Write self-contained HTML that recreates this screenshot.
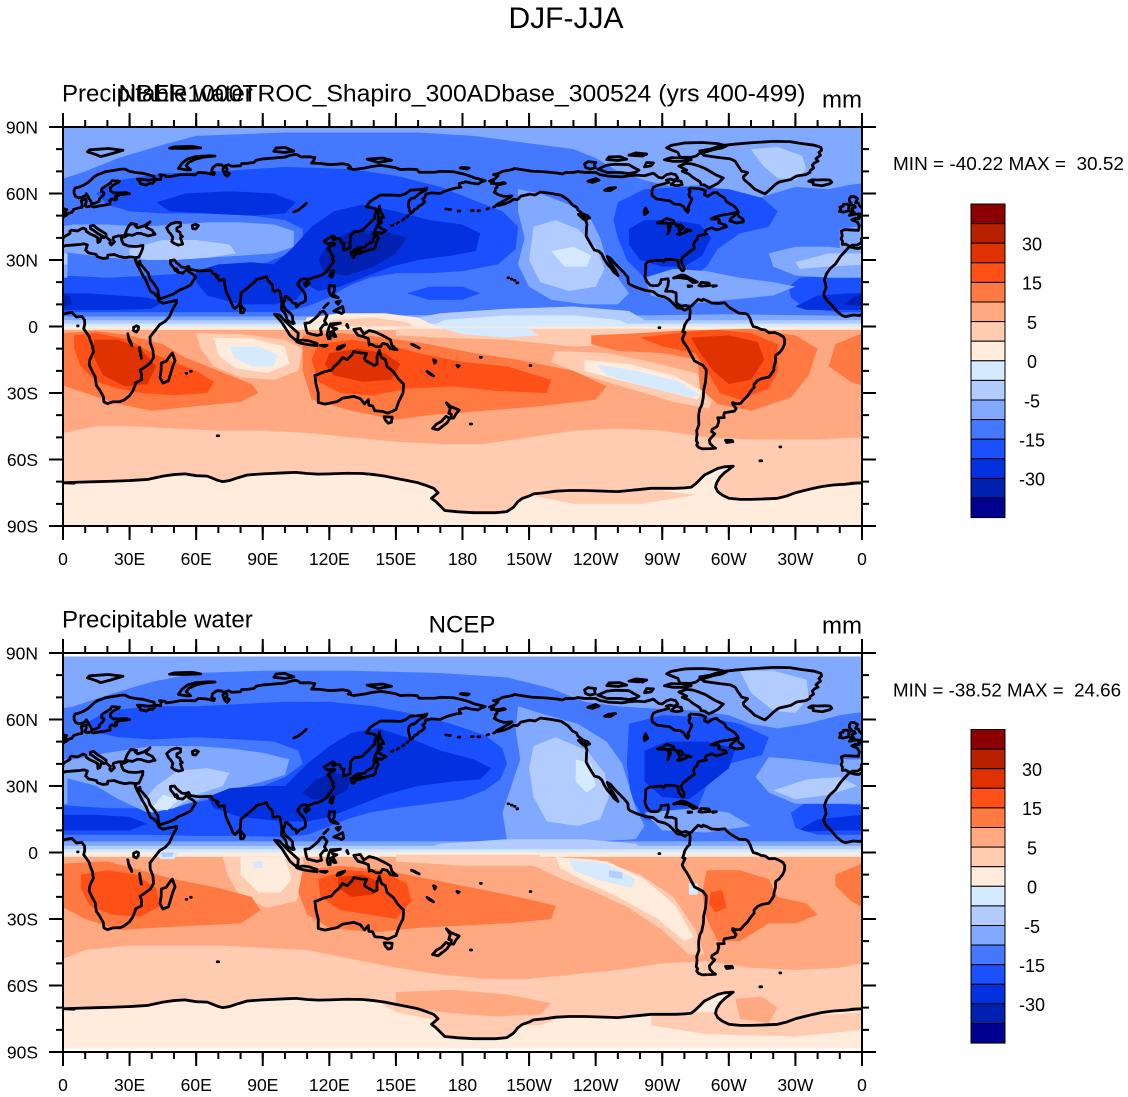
<!DOCTYPE html>
<html><head><meta charset="utf-8"><style>
html,body{margin:0;padding:0;background:#fff;}
svg{display:block;}
text{font-family:"Liberation Sans",Arial,Helvetica,sans-serif;fill:#000;}
</style></head><body>
<svg width="1128" height="1097" viewBox="0 0 1128 1097" xmlns="http://www.w3.org/2000/svg">
<defs>
<g id="coast" fill="none" stroke="#000" stroke-width="2.8" stroke-linejoin="round" stroke-linecap="round">
<path vector-effect="non-scaling-stroke" d="
M-5.9,35.8 L-9.8,31.5 L-12,28.2 L-14.5,26 L-16,23.8 L-17,21 L-16.5,19.5 L-16.2,17.5 L-17.3,14.7 L-16.7,13 L-15.5,11.5 L-13.5,9.5 L-11.5,7 L-9,5 L-7.5,4.4 L-4,5.2 L-1,5 L1.5,6 L4,6.4 L6,4.3 L8.5,4.5 L9.7,3 L9.8,1 L9.3,-1 L11.8,-4.5 L12.2,-6 L13.3,-8.8 L13.7,-11.5 L12.1,-15 L11.8,-17.3 L13.3,-20.5 L14.5,-22.6 L15,-26.6 L16.5,-28.6 L18.2,-31.7 L18.4,-34 L20,-34.8 L22.5,-34 L25.6,-33.9 L27.5,-33.2 L30,-31.2 L31.5,-29 L32.5,-26.5 L32.6,-25.5 L35.4,-24 L35.4,-21.5 L34.7,-19.7 L36.3,-18.7 L39.3,-16.5 L40.8,-14 L40.5,-10.5 L39.3,-7.5 L39.2,-4.7 L41.5,-1.8 L43.5,0.8 L46,2.3 L48,4.5 L49.5,8 L51,10.5 L51.2,11.8 L48.5,11.2 L45,10.5 L43.3,11.5 L42.5,13.5 L41,15 L39.5,15.8 L38.5,18 L37.3,21 L35.7,23.5 L34.5,26 L33.5,27.8 L32.6,29.8 L32.3,31.2 L30,31.4 L28,31 L25,31.7 L23,32.5 L20.2,32.2 L20,30.9 L18,30.7 L15.5,31.5 L15,32.5 L11.5,33.2 L10.2,34.5 L11,36.8 L9.5,37.3 L7.5,37 L5,36.8 L1,36.5 L-1.5,35.2 L-3,35.3 L-5.3,35.9 Z
M-5.6,36.1 L-7.4,37.2 L-8.9,37 L-8.8,38.5 L-9.4,39.5 L-8.9,41 L-9.3,43.1 L-7.8,43.7 L-4,43.5 L-1.6,43.4 L-1.2,45.5 L-2.2,47.2 L-4.6,48.1 L-3,48.8 L-1.4,48.7 L-1.6,49.6 L0,49.4 L1.5,50.2 L2.5,51.1 L4,51.5 L4.8,52.8 L7,53.5 L8.5,53.7 L8.6,55 L8.2,56.8 L10.4,57.6 L10.5,56.2 L9.9,54.5 L11,54 L12.5,54.4 L14,53.9 L16,54.3 L18.5,54.7 L21.2,55.2 L21.1,56.8 L22,57.6 L23.5,57 L24.3,57.6 L23.5,58.6 L26,59.5 L30,59.9 L28,60.5 L25,60.2 L22.5,60.3 L21.4,61.2 L21.3,62.5 L22.5,63.8 L25,65 L25.4,65.6 L22,65.8 L21.5,64.8 L18.7,63 L17.5,62.2 L17.3,61 L18.5,60.2 L18,59 L16.5,57.6 L16.3,56.5 L14.3,55.6 L13,55.4 L12.6,56.4 L11.8,57.7 L11.1,59 L10.5,59.9 L10,59 L8.5,58.3 L7,58 L5.6,58.8 L5,60 L5,61.5 L5.5,62.5 L7.5,63 L9,63.6 L11,64.8 L12.5,66 L14,67.5 L15.5,68.5 L17,69 L19,69.8 L21.5,70.2 L24,70.6 L26,71 L28,71 L30,70 L33,69.4 L36,69.1 L41,67.8 L41.2,66.3 L38.5,66 L35,66.4 L33.5,66.5 L34.8,65 L34.9,64.4 L36.5,64 L37.5,63.8 L39,64.6 L40.5,64.6 L42,66.5 L44,66.2 L44.2,67.8 L43.5,68.5 L46,68.2 L46.5,67.5 L49,67.8 L53,68.5 L57.5,68.5 L59.5,68.4 L61,69.5 L64.5,69.3 L68,68.5 L68.3,69.3 L67,70 L67.3,71.5 L68.5,72.5 L69.5,73 L71.5,72.9 L72.5,72 L72,70.8 L73,68.5 L74,67.7 L75,69 L73.5,70 L74,71 L73,72.5 L74.5,73 L76,72.3 L80,72.5 L80.5,73.5 L83,73.6 L86,74 L87,75 L90,75.6 L95,76 L100,76.4 L101.5,77 L104.5,77.7 L106,77.3 L107,76.5 L111,76.6 L113.5,76.2 L113,75 L112,73.7 L116,73.6 L120,73 L126,73.4 L128.5,73 L129.5,72 L128.5,71.5 L131,70.8 L136,71.5 L139,72.2 L143,72.7 L146,72.3 L150,71.6 L152,70.8 L156,71 L159.5,70.8 L160.5,69.6 L167.5,69.6 L170,70 L176,69.8 L180,68.9 L182.5,68.2 L185.5,67 L188.5,66.3 L190.2,65.8 L188.5,65.2 L187,64.3 L183.5,64.8 L181.5,65.3 L178.5,64.5 L178.6,63.4 L179.3,62.8 L177,62.5 L174,61.7 L172,61 L170,60 L166,60.3 L163.5,59.8 L163,58.2 L162,57.6 L163,56.2 L161.7,55 L160.3,54.3 L159.5,53.2 L158.5,52.9 L157.5,51.5 L156.6,51 L156,53 L155.6,55 L155.9,56.8 L157,57.8 L158.3,58 L161,60.3 L163.5,61.6 L164,62.5 L162.5,62 L159.5,61.7 L156.5,61.5 L154.2,59.8 L152,59.1 L148.5,59.3 L143,59.3 L140.5,57.8 L138.5,56.5 L137,54.6 L136.7,54 L138,53.8 L140.4,53.3 L141.4,52.3 L140.5,50.5 L140.4,48.8 L138.5,47 L137,45.5 L135,43.5 L133,42.8 L131.5,43 L129.6,41 L129.6,39.5 L129.3,37.5 L129.4,35.5 L128,35 L126.5,34.4 L126.3,36.5 L126.7,37.6 L125.4,37.8 L124.8,39.5 L123.5,39.8 L121.8,39 L121.5,39.4 L122.3,40.5 L121.5,40.9 L120.5,40.3 L118.5,39.1 L117.7,38.5 L118.5,37.7 L119.5,37.2 L120.5,37.6 L122.5,37.3 L122.2,36.8 L120.5,36.1 L119.3,35 L120.3,34.2 L121,32.5 L121.8,31.5 L121.3,30.5 L122,29.8 L121.5,28.5 L120.5,27.2 L119.6,26 L118.5,24.6 L117.2,23.6 L115.5,22.8 L113.2,22.2 L110.5,21.2 L110.2,20.4 L109.7,21.4 L108.5,21.6 L107,21 L105.7,19 L106.5,18 L107.5,16.7 L108.8,15.3 L109.3,13.5 L109.2,11.6 L108,10.8 L106.8,10.4 L105.2,8.8 L104.8,10.5 L103.5,10.6 L102.6,12 L100.9,13.5 L100.1,13.4 L100,12.3 L99.2,10.3 L99.5,9.2 L100.4,7.5 L102.2,6.2 L103.4,4.8 L103.5,2.8 L104.2,1.4 L103.5,1.3 L101,2.9 L100.3,5.5 L98.4,7.9 L98.6,10.8 L98.2,13.5 L97.7,16 L96.5,16.4 L95.5,15.8 L94.6,16.2 L94.4,18.7 L92.4,20.7 L91.8,22.5 L89.5,21.8 L87.1,21.2 L86.8,20.5 L84.5,18.6 L82.2,16.6 L80.2,15.1 L80.1,13.5 L79.8,10.4 L78.3,8.9 L77.5,8.1 L76.6,8.9 L76,10.5 L74.8,13 L73.5,15.9 L72.8,19.3 L72.7,21.2 L70.5,20.8 L69.1,22.4 L70,22.8 L67.4,24 L66.7,25.4 L61.5,25.1 L57.4,25.7 L56.6,27.1 L55,26.6 L53.5,26.8 L51,28.9 L50.2,30 L48.4,29.8 L48.5,28.2 L50.1,26.2 L50.6,25.2 L51.1,26.1 L51.6,25.5 L51.5,24.5 L54,24.1 L56.3,26.2 L56.5,24.8 L58.6,23.6 L59.8,22.3 L58.5,20.4 L57.7,18.9 L55.3,17.6 L52.4,16.4 L49.6,14.6 L47,13.6 L44.5,12.7 L43.5,12.6 L42.9,14.8 L42.8,16.5 L41.2,19 L39.2,21.5 L38.4,24 L36.6,26.2 L34.8,28.2 L34.6,29.5 L34.3,28 L33.6,28.5 L32.7,29.9 L32.9,31.1 L34.2,31.3 L35,33 L35.9,35.2 L36,36.6 L34,36.2 L32.5,36.1 L29.5,36.3 L27.3,37.2 L26.6,38.5 L26.2,40 L28,40.5 L29.2,41.2 L27.5,41 L25,40.9 L22.8,40.3 L22.5,39.3 L23.2,38.2 L21.7,36.8 L21.1,37.5 L21.3,38.8 L19.4,40.4 L19.4,41.7 L17,43.2 L15.5,44.2 L13.8,45.6 L12.3,45.3 L12.4,44.2 L13.6,43.5 L15.9,41.8 L18,40.6 L18.5,40.1 L17.2,40.4 L16.6,38.3 L15.7,37.9 L15.6,40.1 L14,41 L12.2,41.8 L10.5,42.9 L10.2,43.9 L9,44.4 L8,43.9 L6.5,43.1 L4,43.5 L3.1,43 L3.2,42.1 L2,41.3 L0.8,40.7 L-0.3,39.5 L0,38.9 L-0.7,37.6 L-2.2,36.7 L-4.4,36.7 L-5,36.3 Z
M28,41.6 L28.6,43.4 L29.6,45.2 L30.7,46.5 L33.2,46 L32.5,45.4 L33.6,44.5 L36.5,45.4 L38.2,46.5 L39.2,47.2 L37.8,45.8 L37.5,44.7 L40.2,43.4 L41.5,41.6 L38.3,40.9 L35,42 L33.3,42 L31.3,41.1 Z
M46.7,44.6 L48.6,46.3 L51.2,47.1 L53,46.8 L53,45.3 L51.3,44.5 L51.3,43.2 L52.7,42.5 L52.9,41.4 L53.8,40.6 L52.9,40 L53.9,37.2 L52,36.7 L50.2,37.4 L49,38.3 L49.5,40.2 L48.5,41.8 L47.5,42.9 Z
M58.2,45.5 L59.7,46.2 L61,45.5 L59.8,44 L58.5,44.1 Z
M104,51.7 L106,52.5 L108.5,54.5 L109.6,55.6
M-5.7,50.1 L-3,50.7 L0.5,50.8 L1.4,51.3 L0.5,51.7 L1.7,52.7 L0.3,53.1 L-1.2,54.6 L-1.6,55.6 L-2.9,56 L-2,57.7 L-3.4,58.6 L-5,58.6 L-5.7,57.5 L-5.6,56.3 L-4.8,55.5 L-5,54.8 L-3.5,54.7 L-3,53.8 L-4.6,53.2 L-4,52.2 L-5.1,51.8 L-3.5,51.4 L-5,51 Z
M-6,52.2 L-6,53.8 L-5.6,54.5 L-6.8,55.2 L-8.3,55.2 L-8.5,54.3 L-10,53.8 L-9.5,52.8 L-10.2,51.9 L-8.5,51.6 Z
M-22,64 L-18,63.5 L-14.5,64.4 L-13.6,65.1 L-14.5,66.1 L-16.8,66.2 L-20,66.1 L-22.5,66.2 L-24,65.5 L-22,65 Z
M11,78.8 L15,77.5 L17,76.6 L22,78 L27,79.5 L20.5,80.3 L16,80 L12,79.7 Z
M52,71.3 L56,70.6 L57.5,70.7 L55.5,72.5 L56.5,74 L60,75.6 L64,76.5 L68.5,76.9 L66,77 L60,76.7 L56,75.5 L53.5,73.5 Z
M48,80.4 L55,80.3 L62,80.6 L58,81.3 L50,81 Z
M95,79 L100,78.5 L104,79.2 L100,80.8 L96,80.5 Z
M137,75.5 L142,74 L148,75 L144,76 Z
M179,71.5 L182,71 L183,71.5 L180,71.8 Z
M130.9,34.3 L133,35.5 L136,35.8 L137,37 L139.5,38.3 L140,40 L141.5,41.4 L142,39.5 L141,37.5 L140.8,35.7 L139.7,34.8 L138.5,34.6 L136.9,34.3 L135.5,33.6 L134,34.4 L132,33.8 Z
M129.8,33.5 L131,33.9 L131.8,32.5 L131,31.2 L130.2,31.5 Z
M132.5,33.9 L134.7,34.1 L134.3,33.2 L133,32.8 Z
M140,41.5 L140.5,43.2 L141.5,45.5 L143.5,44.2 L145.5,43.3 L143.5,42 L141,42.5 Z
M142,46 L143.5,46.8 L143,49 L144.5,49.2 L143,52 L142.6,54.3 L142,52 L142,49 Z
M120.2,22.7 L121,25 L122,25 L121.2,22.2 Z
M108.7,19.5 L110.5,20 L111,19.5 L109.5,18.2 Z
M120,18.5 L122.4,18.4 L122.2,16 L121.5,14.5 L124,13 L121.5,13.5 L120.6,14.2 L119.8,16 Z
M122,7 L126,9 L126.5,6.5 L125.5,5.8 L124,6.5 Z
M123,11 L125,11.5 L124,10 Z M118,9 L119.5,10.5 L117.5,8.5 Z
M95.3,5.6 L97.5,5.2 L100.5,2 L103.7,-1 L106,-3 L105.8,-5.8 L104.5,-5.9 L102.3,-4 L100.4,-1 L98.7,1.7 Z
M105.2,-6.8 L108,-6.1 L111,-6.5 L114.5,-7.7 L114.5,-8.7 L110,-8.1 L106.5,-7.4 Z
M109,1.5 L109.6,-1.5 L110.2,-3 L114.5,-4 L116.5,-3.5 L116,-1 L117.5,0.8 L118.8,1 L117.8,2.5 L119,5 L117.3,7 L116,6.5 L115,5 L113,3.2 L111,1.7 Z
M119.5,-5.5 L120.4,-5.5 L120.5,-2.5 L122,-4.5 L123,-4.5 L121.5,-2 L123.4,-1 L121.5,-0.6 L121,0.5 L125,1.5 L120.5,1.2 L119.8,-0.5 L119,-3.5 Z
M131,-1.3 L134,-0.9 L135.5,-3.4 L138,-1.8 L141,-2.6 L145.5,-4.8 L147.5,-6 L148.2,-8.5 L150.5,-10.5 L147.5,-10 L146,-8 L144,-7.6 L143,-9.2 L141,-9.1 L139,-8 L138,-8.4 L137.6,-5.5 L135,-4.5 L133,-4 L132,-2.8 Z
M124,-9.3 L127,-8.4 L125,-10 L123.5,-10.3 Z M116,-8.5 L119,-8.5 L118,-9 Z M128,1 L128.5,-0.5 L127.8,0.5 Z
M79.9,9.8 L81.9,7.5 L81.2,6.2 L80,6.2 Z
M49.3,-12 L50.5,-15.5 L49.6,-17.5 L47.5,-24.5 L45,-25.5 L43.7,-23 L44.2,-20 L44.3,-16.5 L46.5,-15.7 L48,-13.5 Z
M113.5,-22 L114,-26 L115,-30 L115,-34.3 L118,-35 L123.5,-33.9 L126,-32.3 L131,-31.5 L134,-32.6 L135.8,-34.9 L137.6,-33 L137.8,-35.5 L139.5,-35.8 L140.5,-38 L144,-38.3 L146.3,-39.1 L150,-37.5 L151.3,-33.8 L153.2,-30 L153.5,-26 L151,-23.5 L149,-20.5 L146,-18 L145.3,-15 L143.5,-14 L142.5,-10.7 L141.5,-13.5 L141.5,-17 L140,-17.6 L139,-16.8 L136.5,-15.5 L135.8,-14.5 L136.8,-12.2 L134,-11.9 L131,-11.3 L130,-13 L128,-15 L126,-14 L124,-16.5 L122.2,-18 L121,-19.6 L117,-20.7 L114.5,-21.8 Z
M144.7,-40.7 L148.3,-40.9 L148,-43.2 L146.5,-43.6 L145.2,-42.2 Z
M172.7,-34.4 L174.5,-36 L178.5,-37.7 L177,-39.5 L176,-41.3 L174.7,-41.3 L175,-39.5 L173.8,-39.2 L174.5,-37 Z
M172.6,-40.5 L174.3,-41.5 L173,-43.5 L171,-45 L169,-46.6 L166.5,-46 L168.3,-44 L170.5,-42.8 Z
M164,-20.2 L166,-21.5 L167,-22.3 L165,-21.2 Z
M167,-15 L167.5,-16.5 L168,-15.5 Z M177.5,-17.5 L178.5,-17.8 L178,-18.2 Z M157,-8 L159,-9 L160.5,-9.7 L158,-8.3 Z
M57.5,-20.2 l0.3,0 M55.5,-21.1 l0.3,0 M69.5,-49.3 l0.6,0 M6.6,0.3 l0.2,0
M188,-13.9 l0.5,0 M210.5,-17.6 l0.3,0 M183.5,-44 l0.6,0 M268.5,-0.5 l0.4,0 M314,-60.6 l0.8,0
M31.8,-0.4 L33,0.3 L34,-0.1 L33.9,-1.5 L33,-2.5 L31.8,-1.8 Z
M29.2,-3.3 L29.8,-6.3 L31,-8.6 L30.5,-7 L29.5,-5 Z
M34.5,-9.5 L34.8,-12 L35.3,-14.3 L34.9,-12 Z
M192.2,65.6 L194.5,66.5 L196,68 L194,68.5 L196.3,69 L198,70 L202,70.7 L203.5,71.3 L206,70.9 L211,70.1 L218,69.7 L223,69.2 L225,68.8 L226.5,69.5 L230,69.5 L232,69.9 L235,69.5 L240,69.5 L242,68.5 L246,67.8 L252,67.5 L255,68 L258.5,68.3 L262,68 L266,69.2 L268.5,67.2 L270,67 L272,68.5 L274,69 L276,68.5 L277,67 L275.5,66 L273.5,66.5 L271.8,66 L273,65 L270,64.2 L267.5,63.5 L266,62.8 L265.3,61.2 L265.5,59 L267.5,57.5 L271,57 L273.2,56.8 L275.5,55.2 L277.8,55.1 L279.5,54.2 L280.7,52.2 L281.5,51.5 L282,52.5 L281.5,53.5 L282.4,55.2 L283.4,57.6 L282.3,58.5 L282,59.7 L282.6,60.8 L282,61.8 L282.8,62.5 L285,62.3 L287.5,62 L289.5,61.2 L289,59.5 L290.5,58.7 L293,60.3 L294.6,60.5 L295.7,59.4 L298,58.1 L298.9,56.4 L300.2,55.5 L301.8,54.7 L303,53.7 L304,52.3 L304.3,51.5 L300.3,50.8 L296.5,50.2 L293.5,49.3 L292,48.5 L295.3,48.5 L295.8,47.8 L295.4,46.8 L298.5,45.8 L299,45 L296,44 L294.2,43.6 L292.3,44.6 L290,43.7 L289.4,43 L289.6,42 L290,41.7 L287.5,41.3 L286,40.7 L285.6,39 L284.7,38.4 L284.1,37 L284.5,35.2 L282.2,33.7 L280.8,32.5 L279.3,31.4 L278.6,30 L278.8,28.5 L279.7,27 L279.9,25.8 L279.5,25.1 L278.8,25.3 L277.5,27 L277.2,28.3 L277.2,29.8 L274.5,30.3 L271.5,30.3 L270.5,29.2 L269.5,30 L266,29.6 L264,29.5 L262.5,28.2 L262.6,26.5 L262.2,22.5 L263.1,20.2 L264.6,18.6 L266,18.4 L268,18.5 L269.2,19.6 L269.5,21.2 L272.6,21.5 L272.8,20.5 L272.5,18.2 L271.5,15.9 L274.3,15.9 L276.2,15.2 L276.3,13.2 L276.3,11 L277,10 L278.5,9.1 L280.5,9.5 L282.4,8.8 L283.3,9.3 L284.3,10.5 L285.5,11.6 L286.1,12.3 L288,11.6 L288.4,12.3 L290.3,11.6 L292.2,10.6 L295.3,10.4 L298.2,10.7 L299,9.8 L300.4,8.5 L302.4,7.3 L304.6,6 L307.7,5.8 L308.7,5.1 L309.6,3.5 L310.2,1.7 L311,0 L312.8,-0.5 L314.5,-1.3 L316.5,-1.6 L318,-2.8 L320.6,-2.7 L322.5,-3.4 L324.5,-4.6 L325.2,-5.9 L325.1,-8 L324.2,-10 L322.8,-11.8 L321.1,-13.1 L321,-15.9 L320.3,-18.4 L320.3,-19.6 L318.8,-21.9 L318,-22.9 L315,-23.4 L313,-24.3 L311.4,-26 L311.4,-27.4 L309.7,-29.4 L308.5,-31.3 L306.5,-33.2 L305.3,-34.7 L303.5,-34.9 L301.7,-34.3 L301.7,-35 L303.3,-37 L302.5,-38.2 L298,-38.9 L297.7,-40 L297.9,-41.1 L295,-41.2 L295.5,-42.7 L294.8,-45 L292.4,-46.5 L292.3,-47.5 L293.7,-48.4 L291.2,-51.1 L291.5,-52.8 L293.1,-54.3 L294,-54.9 L291.1,-55.1 L288,-55.2 L286.3,-54.5 L285.5,-53.4 L286,-52.5 L285.3,-51.5 L285.7,-48.5 L285.5,-47 L286.5,-44.3 L286.4,-41.7 L286.4,-40 L286.9,-37.2 L287.8,-35.5 L288.5,-32 L288.7,-28.5 L289.5,-25 L289.8,-21.5 L289.8,-19.5 L288.3,-17.5 L284.5,-15.5 L283,-12.7 L281.6,-10 L279.5,-6.8 L279,-5.5 L280.3,-2.7 L279.2,-2.4 L279.8,-0.6 L280,0.5 L281.2,2.5 L282.3,3.5 L282.6,6.8 L282.3,8.6 L280.1,7.3 L278.5,8.2 L276.8,8.4 L274.7,10.6 L273.1,12.2 L271.1,13.3 L268.2,14 L265.8,15.8 L262.4,16.3 L258.4,17.6 L255.5,18.9 L254.7,19.7 L254.5,22.2 L252.7,24.3 L250.1,26.9 L248.5,28.6 L246.6,30.8 L245.2,31.6 L246.3,29.2 L247.8,27.1 L249.2,24.7 L250.1,23 L248.2,24.5 L247,26.3 L245.4,28 L243.8,30.5 L242.8,32.7 L241.5,33.9 L239.4,34.5 L238.1,36.6 L237.1,38.3 L235.7,40.8 L235.8,42.2 L235.9,44.9 L236.1,46.2 L235.3,48.3 L237.3,49 L236.4,50 L234.6,50.6 L232,52.5 L231.5,53.8 L229.7,54.7 L227.5,57.2 L224.5,59.2 L220,60 L215.2,60.7 L212.6,59.3 L210.3,59.7 L206.3,58.8 L204.7,57.2 L203,57.4 L201.4,56.3 L198.6,55.2 L196,54.6 L195.3,54.9 L198.6,56.7 L201.5,58.3 L202.3,58.9 L198.6,58.7 L196.3,59.4 L194.3,60.5 L194.8,61.3 L194.7,62.2 L195.6,62.8 L195.4,63.8 L198.3,64.4 L199.3,64.6 L198.5,65 L196.6,64.5 L193,64.5 L194,65.2 Z
M316.3,59.8 L311.7,61.9 L309.3,64.2 L306.8,66.3 L306.5,67.5 L308.5,69.4 L305.8,70.1 L304.3,72.3 L302.8,74.6 L300.7,75.6 L295,76.3 L288.7,77.2 L288,78 L289,78.5 L286.9,79.2 L292,80.1 L294.5,81 L298.4,81.8 L303,82.3 L310,82.9 L320,83.5 L327.5,83.4 L333,82.5 L338.5,81.8 L341.5,80.8 L341.8,79.6 L340.6,78.5 L341.3,77.3 L339.2,75.7 L340.2,74.6 L338.4,73.7 L337.6,72.8 L338.2,71.5 L336.7,70.4 L336.5,69.5 L334.7,68.5 L330.5,67.9 L327.8,66.3 L322.7,65.2 L320.6,63.8 L319.3,62.5 Z
M281,70.5 L279,70 L282,68.8 L283.5,67.5 L285.5,66.2 L287,65.3 L287.5,64 L289.2,63.8 L291,62.5 L293,63.5 L295,64.5 L296.5,66 L297.5,67 L294,68.5 L292,69.7 L289.5,71.2 L286,72.6 L283.5,73.3 L281,73.6 L277.5,72.4 L279,71.6 Z
M278,76.4 L283,76.3 L285.5,77 L286.5,78 L289,78.6 L293,79.8 L297,80.6 L299,81.5 L295,82.5 L288,83 L280,82.8 L274,81.7 L272,80.6 L274,79.7 L277,78.6 Z
M271,75.2 L275,74.5 L280,74.5 L283,75.2 L279,76 L274,76.2 Z
M241,71 L245,69.5 L251,69.5 L255,69 L258,69.6 L259.5,70.5 L257,71.8 L255,73 L249,73.2 L245,72.8 Z
M235.5,71.7 L237.5,71 L239.8,71.6 L239.5,73 L240,74 L236.5,74.4 L235,73.3 Z
M245,75.3 L250,74.9 L254,75.5 L251,76.6 L246,76.5 Z M255,77.3 L261,76.9 L263,77.8 L258,78.3 Z
M262,72 L265,72.5 L266,73.8 L263,74 Z
M274,64 L276.5,63.5 L279,64 L278.5,65.5 L276,65.9 Z
M300.5,47.6 L303.5,46.7 L306.5,47.2 L306.4,48.4 L304.8,49.4 L303.3,51.5 L302.4,51.3 L302.7,50.2 L300.7,48.4 Z
M275.1,21.9 L278.5,23.2 L280,23.1 L283,21.6 L285.8,20.1 L283.9,19.8 L281.7,21.5 L277.5,22.1 Z
M287.6,19.9 L291,19.6 L291.6,18.5 L287.6,18.2 L286.5,18.4 Z
M281.6,18.4 L283.3,18.2 L281.7,18 Z M292.8,18.4 L294.4,18.4 L292.8,18.1 Z
M234.5,48.4 L236,48.4 L234,50.3 L232.2,50.6 Z
M267.8,46.7 L273,46.5 L275.5,46.5 L275,47.8 L272,48.8 L270,47.5 Z
M272.5,46 L273,44 L272.5,41.8 L273.8,45 Z
M276,46 L278.5,45.8 L279.5,44.6 L277.7,43.1 L277.5,44.5 Z
M276.8,41.7 L280,42.3 L281.2,42.8 L278,41.5 Z M280.5,43.3 L283,43.2 L281,43.8 Z
M262,50.5 L263.5,51.5 L262.5,53.5 L261.8,52 Z
M244,61.5 L246,62.4 L249,62.7 L246.5,61.3 Z M236.5,65.5 L240,66.8 L241.5,66 L238.5,65 Z
M204.5,19.6 l0.4,0.2 M203.4,20.8 l0.3,0 M202,21.4 l0.3,0 M200.5,22 l0.3,0
M187,52.2 l0.8,0 M184,52.3 l0.8,0 M178,52 l0.8,0.1 M174,52.8 l0.6,0 M191,53 l0.8,0.3 M194,53.9 l0.8,0.3 M172.5,53 l0.4,0
M148,45.5 l0.6,0.3 M150.5,46.5 l0.6,0.5 M153,48 l0.6,0.5 M155,49.5 l0.5,0.5
M298.5,-51.3 L301.5,-51.4 L301.8,-52 L299,-52.3 Z M323,-54.3 l0.4,0
"/>
<polyline vector-effect="non-scaling-stroke" points="-5,-70.7 0,-70.5 8,-70.2 15,-70 22,-69.8 30,-69.5 38,-69 45,-67.5 50,-66.8 55,-66.5 60,-67.3 65,-67.5 70,-69.5 72,-70 75,-69.5 78,-68.5 83,-67 90,-66.5 100,-66 105,-65.8 110,-66.3 115,-66.6 120,-66.5 128,-66.2 135,-66.3 140,-66.8 145,-67.5 150,-68.5 155,-69.5 160,-70.5 163,-71.5 167,-73 169,-75 166,-77.5 168,-79 170,-81 172,-83 178,-83.6 185,-84 195,-84 200,-83.5 203,-81.5 205,-79 207,-77.5 210,-76.5 212,-75.5 217,-75 222,-74.3 228,-74 235,-74 242,-74.2 250,-74.5 255,-74 260,-73.5 265,-73 270,-73 276,-73 280,-72.8 283,-72.5 285,-71 287,-69 289,-67 292,-65.5 295,-64 298,-63.3 302,-63 300,-64.5 298,-66 296,-68 294.5,-70.5 294,-72.5 295,-74.5 297,-76 300,-77.5 305,-78 310,-78 316,-77.8 322,-77.5 326,-76.5 330,-75 334,-74 338,-73 342,-72.2 347,-71.5 352,-71.2 358,-70.6 360,-70.5 365,-70.7"/>
</g>
<polygon id="ant" points="-5,-70.7 0,-70.5 8,-70.2 15,-70 22,-69.8 30,-69.5 38,-69 45,-67.5 50,-66.8 55,-66.5 60,-67.3 65,-67.5 70,-69.5 72,-70 75,-69.5 78,-68.5 83,-67 90,-66.5 100,-66 105,-65.8 110,-66.3 115,-66.6 120,-66.5 128,-66.2 135,-66.3 140,-66.8 145,-67.5 150,-68.5 155,-69.5 160,-70.5 163,-71.5 167,-73 169,-75 166,-77.5 168,-79 170,-81 172,-83 178,-83.6 185,-84 195,-84 200,-83.5 203,-81.5 205,-79 207,-77.5 210,-76.5 212,-75.5 217,-75 222,-74.3 228,-74 235,-74 242,-74.2 250,-74.5 255,-74 260,-73.5 265,-73 270,-73 276,-73 280,-72.8 283,-72.5 285,-71 287,-69 289,-67 292,-65.5 295,-64 298,-63.3 302,-63 300,-64.5 298,-66 296,-68 294.5,-70.5 294,-72.5 295,-74.5 297,-76 300,-77.5 305,-78 310,-78 316,-77.8 322,-77.5 326,-76.5 330,-75 334,-74 338,-73 342,-72.2 347,-71.5 352,-71.2 358,-70.6 360,-70.5 365,-70.7 365,-91 -5,-91"/>
</defs>

<rect width="1128" height="1097" fill="#fff"/>

<!-- ============ TOP PANEL ============ -->
<svg x="63" y="127" width="799" height="399" viewBox="0 -90 360 180" preserveAspectRatio="none" overflow="hidden">
<g transform="scale(1,-1)">
<rect x="0" y="0" width="360" height="90" fill="#4479ff"/>
<rect x="0" y="-90" width="360" height="90" fill="#ffcbb1"/>
<polygon fill="#80a9ff" points="-5,91 365,91 365,65 355,64 345,62 330,63 320,60 310,57 300,60 290,64 275,63 262,66 250,70 240,76 230,80 215,82 200,84 185,86 160,87.5 100,87.5 60,86 45,82 25,76 10,70 -5,65"/>
<polygon fill="#b2ccff" points="310,80 322,81 333,77 335,71 330,66 322,67 316,72 312,77"/>
<g id="t13" fill="#1b50ff">
<polygon points="15,60 25,66 45,69 70,70 100,72 130,71 150,68 170,63 185,57 198,52 205,45 204,35 196,28 180,25 165,24 150,24 138,22 128,18 120,13 110,9 100,6.5 85,6.5 70,6.5 50,6.5 30,6.5 10,6.5 -10,6.5 -25,8 -32,13 -33,18 -28,22 -15,23 0,23 20,22 40,23 55,24 68,25 80,26 92,29 102,33 108,38 108,44 100,48 85,50 65,51 45,51 30,52 20,55"/>
<polygon points="250,56 262,62 280,63 300,62 315,58 322,52 318,45 305,42 295,35 290,27 282,21 272,20 262,22 254,30 250,40 248,48"/>
<polygon points="155,15 165,18 180,18 188,15 180,12 165,12"/>
</g>
<use href="#t13" x="-360"/><use href="#t13" x="360"/>
<g id="t11" fill="#80a9ff">
<polygon points="-10,44 5,46 20,46 35,45 50,46 65,47 80,47 95,46 104,43 104,36 95,33 80,32 65,31 50,30 35,30 20,31 5,33 -10,35"/>
<polygon points="205,62 215,60 228,55 238,48 242,40 245,30 250,22 255,15 250,10 235,10 220,12 210,18 205,28 208,40 205,52"/>
<polygon points="262,22 275,26 290,25 305,22 320,20 330,18 320,14 300,12 280,10 265,14"/>
<polygon points="318,33 330,36 345,36 362,34 362,22 345,22 330,23 320,27"/>
<polygon points="-5,0 365,0 365,4.5 340,5 300,5.5 260,5 200,5.5 150,5 100,4.5 60,4.5 20,4.5 -5,4.5"/>
</g>
<use href="#t11" x="-360"/><use href="#t11" x="360"/>
<g id="t10" fill="#b2ccff">
<polygon points="30,35 45,39 60,39 75,37 78,33 65,31 50,30 38,30 30,32"/>
<polygon points="212,45 222,48 232,44 240,36 244,26 240,18 228,16 215,20 210,30"/>
<polygon points="330,29 345,33 362,33 362,28 345,27 332,26"/>
<polygon points="-5,0 365,0 365,2.8 -5,2.8"/>
<polygon points="150,0 150,2 170,6 200,8 230,9 255,7 262,3 262,0"/>
</g>
<use href="#t10" x="-360"/><use href="#t10" x="360"/>
<g fill="#d5eaff">
<polygon points="220,34 230,36 238,32 236,27 226,27"/>
<polygon points="-5,0 365,0 365,1.3 -5,1.3"/>
<polygon points="165,0 172,3 200,5 230,5 250,3 258,0"/>
</g>
<g id="t14" fill="#0431e0">
<polygon points="42,56 55,60 75,61 95,60 105,56 100,51 85,50 65,51 48,52"/>
<polygon points="95,28 103,35 112,45 122,52 135,55 150,52 165,48 180,46 188,42 186,34 175,32 160,30 148,27 135,22 125,18 115,16 108,20 100,24"/>
<polygon points="60,25 70,28 85,29 95,28 103,25 110,18 105,12 95,10 80,10 65,14 60,20"/>
<polygon points="-30,9 -20,14 -5,15 10,15 25,14 38,13 45,11 40,8 25,7.5 10,7.5 -10,7.5 -25,7.5"/>
<polygon points="255,44 262,48 275,48 287,46 292,40 288,32 280,27 270,27 260,30 255,37"/>
</g>
<use href="#t14" x="-360"/><use href="#t14" x="360"/>
<g id="t15" fill="#0020b2">
<polygon points="115,30 120,38 130,43 145,43 155,40 150,33 140,27 128,23 118,24"/>
<polygon points="-8,10 -3,14 3,14 4,10 0,9"/>
</g>
<use href="#t15" x="360"/>
<polygon fill="#ffecdc" points="108,0 110,4 125,6 145,6 160,4 168,0"/>
<polygon fill="#ffcbb1" points="118,0 122,3 140,4 155,2 158,0"/>
<!-- SH -->
<polygon fill="#ffecdc" points="-5,0 365,0 365,-3 -5,-3"/>
<polygon fill="#ffa982" points="0,-1.5 360,-1.5 360,-50 340,-51 310,-51 290,-50 270,-47 250,-46 230,-47 210,-50 190,-53 170,-53 150,-52 130,-50 110,-48 90,-47 70,-47 50,-46 30,-45 15,-45 0,-48"/>
<g fill="#ffcbb1">
<polygon points="60,-3 80,-3.5 100,-6 108,-10 106,-20 95,-24 80,-23 68,-18 62,-10"/>
<polygon points="222,-11 245,-12 265,-16 285,-21 294,-30 291,-37 275,-34 255,-28 235,-22 220,-16"/>
<polygon points="150,-1 285,-1 285,-5 260,-8 230,-9 200,-6 170,-5 150,-4"/>
</g>
<g fill="#ffecdc">
<polygon points="68,-5 85,-5.5 100,-9 102,-17 92,-21 78,-19 70,-13"/>
<polygon points="235,-15 255,-17 275,-22 288,-29 286,-33 270,-29 250,-24 235,-20"/>
</g>
<g fill="#d5eaff">
<polygon points="75,-9 88,-9 97,-13 95,-18 85,-18 77,-14"/>
<polygon points="240,-17 258,-20 278,-25 287,-31 283,-32 262,-27 245,-22"/>
<polygon points="170,-0.5 210,-0.5 214,-4 200,-5 180,-3.5"/>
</g>
<g id="t5" fill="#ff7943">
<polygon points="-12,-8 0,-3 15,-2 30,-4 45,-8 55,-14 65,-18 75,-22 85,-26 88,-30 80,-34 60,-36 40,-38 25,-35 10,-30 -5,-25 -15,-18"/>
<polygon points="108,-4 125,-3 145,-5 165,-8 185,-12 205,-15 230,-20 245,-27 240,-33 215,-36 190,-38 165,-40 150,-42 130,-38 112,-33 108,-20"/>
<polygon points="238,-4 260,-3 275,-2 290,-1.5 310,-1 330,-4 340,-10 336,-22 328,-32 310,-38 295,-35 287,-28 286,-15 270,-12 250,-11 238,-8"/>
</g>
<use href="#t5" x="360"/>
<g fill="#ff5017">
<polygon points="5,-4 15,-3 30,-6 40,-12 50,-16 60,-20 68,-25 65,-30 50,-31 35,-30 25,-28 15,-25 8,-18 5,-10"/>
<polygon points="115,-8 130,-6 145,-8 160,-12 180,-16 200,-18 220,-24 218,-30 195,-29 175,-27 155,-28 140,-31 125,-30 115,-25 112,-15"/>
<polygon points="260,-5 280,-2.5 295,-1.5 310,-3 322,-8 322,-20 318,-28 305,-33 296,-30 290,-20 285,-12 270,-9"/>
</g>
<g fill="#e03200">
<polygon points="14,-6 25,-6 35,-10 42,-18 38,-26 28,-27 18,-22 14,-14"/>
<polygon points="120,-12 133,-10 145,-12 152,-17 148,-24 135,-25 122,-22 118,-17"/>
<polygon points="283,-5 300,-4 313,-7 316,-15 310,-24 300,-26 293,-20 287,-12"/>
</g>
<use href="#ant" fill="#ffecdc"/>
<polygon fill="#ffcbb1" points="210,-76 240,-74 270,-74 285,-76 260,-80 230,-80"/>
<use href="#coast"/><use href="#coast" x="-360"/><use href="#coast" x="360"/>
</g>
</svg>

<!-- ============ BOTTOM PANEL ============ -->
<svg x="63" y="653" width="799" height="399" viewBox="0 -90 360 180" preserveAspectRatio="none" overflow="hidden">
<g transform="scale(1,-1)">
<rect x="0" y="0" width="360" height="90" fill="#4479ff"/>
<rect x="0" y="-90" width="360" height="90" fill="#ffcbb1"/>
<polygon fill="#80a9ff" points="-5,91 365,91 365,64 350,62 335,58 322,56 310,58 300,62 285,64 265,65 250,66 235,68 220,74 200,79 170,81 130,82 90,82 60,81 40,77 20,71 5,66 -5,64"/>
<polygon fill="#b2ccff" points="305,82 320,82 335,78 336,70 330,63 320,64 310,72"/>
<g id="b13" fill="#1b50ff">
<polygon points="10,58 20,64 40,66 60,66 80,67 100,68 120,68 140,66 160,62 175,58 190,53 198,47 200,40 197,33 190,28 180,24 165,22 150,20 138,18 128,15 118,11 110,8 100,7 80,7.5 60,7.5 40,8 20,8 0,8 -20,8 -30,11 -32,18 -26,22 -10,22 5,21 20,20 35,20 50,21 62,23 75,26 90,30 100,34 108,40 106,46 95,50 80,51 60,52 40,51 25,52 15,54"/>
<polygon points="255,58 270,62 290,61 305,58 318,52 315,44 300,40 290,30 285,18 275,13 262,15 256,25 254,40"/>
</g>
<use href="#b13" x="-360"/><use href="#b13" x="360"/>
<g id="b11" fill="#80a9ff">
<polygon points="5,42 20,45 40,48 60,48 75,47 90,45 102,42 100,35 90,32 75,28 62,24 50,20 38,18 25,24 15,30 0,34 -10,36 -10,42"/>
<polygon points="205,66 218,62 232,58 245,50 252,40 255,30 258,20 262,12 258,6 240,5 220,5 200,6 198,18 202,30 206,42 204,55"/>
<polygon points="318,43 330,42 345,40 362,38 362,22 345,22 330,22 318,27 312,34"/>
<polygon points="262,18 285,20 300,18 310,12 290,9 270,10"/>
<polygon points="-5,0 365,0 365,5 -5,5"/>
</g>
<use href="#b11" x="-360"/><use href="#b11" x="360"/>
<g id="b10" fill="#b2ccff">
<polygon points="35,22 42,30 52,37 65,38 75,36 72,30 60,26 50,20 40,18"/>
<polygon points="212,48 222,52 236,46 244,36 246,25 242,15 232,12 218,14 212,25 210,38"/>
<polygon points="320,28 335,33 350,34 358,30 345,26 330,24"/>
<polygon points="-5,0 365,0 365,3 -5,3"/>
<polygon points="160,0 170,4 200,6 235,6 258,4 262,0"/>
</g>
<g fill="#d5eaff">
<polygon points="40,20 45,26 52,24 47,19"/>
<polygon points="231,42 238,40 240,30 236,27 231,32"/>
<polygon points="-5,0 365,0 365,1.5 -5,1.5"/>
</g>
<g id="b14" fill="#0431e0">
<polygon points="-28,10.5 -20,15 0,17 15,17 30,16 38,13 30,10 10,10 -10,10 -25,9.5"/>
<polygon points="90,30 100,30 110,40 120,48 130,54 142,56 155,52 170,46 185,42 193,38 188,33 175,32 160,30 145,26 130,20 120,16 110,14 100,14 90,15 80,16 68,20 65,25 75,29"/>
<polygon points="262,46 272,50 290,50 303,47 300,38 290,30 282,24 270,25 262,32"/>
</g>
<use href="#b14" x="360"/>
<polygon fill="#0020b2" points="108,27 114,33 122,36 130,34 128,28 120,24 112,24"/>
<!-- SH -->
<polygon fill="#ffecdc" points="-5,0 365,0 365,-4 -5,-4"/>
<polygon fill="#ffa982" points="0,-2 360,-2 360,-50 350,-52 330,-53 310,-52 290,-49 270,-50 250,-53 230,-55 210,-57 190,-57 170,-55 150,-52 130,-48 110,-44 90,-43 70,-42 50,-42 30,-42 10,-44 0,-48"/>
<g fill="#ffcbb1">
<polygon points="72,-2 108,-2 110,-12 105,-22 92,-25 80,-20 74,-10"/>
<polygon points="215,-2 240,-3 260,-10 275,-20 285,-35 289,-46 282,-46 270,-35 255,-25 240,-18 225,-12 212,-6"/>
<polygon points="150,-1 215,-1 215,-6 180,-6 150,-4"/>
</g>
<g fill="#ffecdc">
<polygon points="80,-2 100,-2 103,-12 98,-18 88,-18 80,-10"/>
<polygon points="222,-2 245,-4 262,-12 276,-24 284,-38 280,-40 268,-30 250,-20 235,-13 224,-7"/>
</g>
<g fill="#d5eaff">
<polygon points="85,-4 90,-4 90,-7 86,-7"/>
<polygon points="228,-3 245,-5 258,-12 256,-16 240,-12 230,-8"/>
<polygon points="42,0 52,0 50,-3 44,-3"/>
<polygon points="282,-14 286,-14 286,-19 282,-19"/>
</g>
<g fill="#b2ccff">
<polygon points="246,-8 252,-9 252,-12 246,-11"/>
<polygon points="44,0 50,0 49,-2 45,-2"/>
</g>
<g id="b5" fill="#ff7943">
<polygon points="-12,-10 0,-5 20,-4 35,-8 50,-12 70,-16 85,-20 89,-26 80,-32 60,-33 40,-34 25,-35 10,-30 -5,-22 -12,-15"/>
<polygon points="108,-8 125,-6 145,-8 165,-12 185,-16 205,-20 222,-24 220,-30 200,-32 180,-33 160,-34 140,-36 120,-34 110,-28 106,-18"/>
<polygon points="290,-8 305,-8 318,-12 322,-20 335,-23 340,-28 330,-32 318,-32 305,-40 295,-40 290,-30 288,-18"/>
</g>
<use href="#b5" x="360"/>
<g fill="#ff5017">
<polygon points="8,-10 20,-8 33,-10 42,-16 44,-24 35,-29 22,-28 12,-24 8,-16"/>
<polygon points="115,-12 128,-8 145,-9 155,-14 157,-22 150,-30 138,-28 125,-26 116,-20"/>
<polygon points="292,-18 297,-17 299,-25 294,-27 291,-23"/>
</g>
<polygon fill="#e03200" points="124,-11 135,-10 142,-13 140,-19 130,-20 124,-16"/>
<use href="#ant" fill="#ffecdc"/>
<polygon fill="#ffcbb1" points="140,-60 180,-59 225,-64 230,-72 215,-78 180,-78 150,-72 140,-66"/>
<polygon fill="#ffa982" points="150,-63 175,-62 200,-64 220,-68 215,-73 195,-74 170,-72 150,-68"/>
<polygon fill="#ffcbb1" points="265,-72 300,-72 330,-74 361,-72 361,-80 330,-83 290,-82 265,-78"/>
<polygon fill="#ffa982" points="303,-66 315,-65 322,-70 318,-77 305,-75"/>
<use href="#coast"/><use href="#coast" x="-360"/><use href="#coast" x="360"/>
</g>
</svg>
<rect x="63" y="653" width="799" height="3.5" fill="#fff"/>
<rect x="63" y="1048.5" width="799" height="3.5" fill="#fff"/>

<!-- ============ FRAMES & TICKS ============ -->
<g fill="none" stroke="#000">
<rect x="63" y="127" width="799" height="399" stroke-width="2"/>
<rect x="63" y="653" width="799" height="399" stroke-width="2"/>
<line x1="62" y1="123.5" x2="864" y2="123.5" stroke-width="7" stroke-dasharray="2 20.194"/>
<line x1="62" y1="120" x2="864" y2="120" stroke-width="14" stroke-dasharray="2 64.583"/>
<line x1="62" y1="529.5" x2="864" y2="529.5" stroke-width="7" stroke-dasharray="2 20.194"/>
<line x1="62" y1="533" x2="864" y2="533" stroke-width="14" stroke-dasharray="2 64.583"/>
<line x1="59.5" y1="126" x2="59.5" y2="528" stroke-width="7" stroke-dasharray="2 20.1667"/>
<line x1="56" y1="126" x2="56" y2="528" stroke-width="14" stroke-dasharray="2 64.5"/>
<line x1="865.5" y1="126" x2="865.5" y2="528" stroke-width="7" stroke-dasharray="2 20.1667"/>
<line x1="869" y1="126" x2="869" y2="528" stroke-width="14" stroke-dasharray="2 64.5"/>
<line x1="62" y1="649.5" x2="864" y2="649.5" stroke-width="7" stroke-dasharray="2 20.194"/>
<line x1="62" y1="646" x2="864" y2="646" stroke-width="14" stroke-dasharray="2 64.583"/>
<line x1="62" y1="1055.5" x2="864" y2="1055.5" stroke-width="7" stroke-dasharray="2 20.194"/>
<line x1="62" y1="1059" x2="864" y2="1059" stroke-width="14" stroke-dasharray="2 64.583"/>
<line x1="59.5" y1="652" x2="59.5" y2="1054" stroke-width="7" stroke-dasharray="2 20.1667"/>
<line x1="56" y1="652" x2="56" y2="1054" stroke-width="14" stroke-dasharray="2 64.5"/>
<line x1="865.5" y1="652" x2="865.5" y2="1054" stroke-width="7" stroke-dasharray="2 20.1667"/>
<line x1="869" y1="652" x2="869" y2="1054" stroke-width="14" stroke-dasharray="2 64.5"/>
</g>

<!-- ============ TEXT ============ -->
<text x="566" y="28" font-size="30" text-anchor="middle">DJF-JJA</text>

<text x="62" y="101.7" font-size="24">Precipitable water</text>
<text x="462" y="101.7" font-size="24" text-anchor="middle" textLength="687" lengthAdjust="spacingAndGlyphs">NBER1000TROC_Shapiro_300ADbase_300524 (yrs 400-499)</text>
<text x="862" y="107.3" font-size="24" text-anchor="end">mm</text>

<text x="62" y="627.3" font-size="24">Precipitable water</text>
<text x="462" y="632.7" font-size="24" text-anchor="middle">NCEP</text>
<text x="862" y="633.3" font-size="24" text-anchor="end">mm</text>

<g font-size="17.5" text-anchor="end">
<text x="38" y="133.3">90N</text><text x="38" y="199.8">60N</text><text x="38" y="266.3">30N</text><text x="38" y="332.8">0</text><text x="38" y="399.3">30S</text><text x="38" y="465.8">60S</text><text x="38" y="532.3">90S</text>
<text x="38" y="659.3">90N</text><text x="38" y="725.8">60N</text><text x="38" y="792.3">30N</text><text x="38" y="858.8">0</text><text x="38" y="925.3">30S</text><text x="38" y="991.8">60S</text><text x="38" y="1058.3">90S</text>
</g>
<g font-size="17.5" text-anchor="middle">
<text x="63" y="565">0</text><text x="129.6" y="565">30E</text><text x="196.2" y="565">60E</text><text x="262.8" y="565">90E</text><text x="329.3" y="565">120E</text><text x="395.9" y="565">150E</text><text x="462.5" y="565">180</text><text x="529.1" y="565">150W</text><text x="595.7" y="565">120W</text><text x="662.3" y="565">90W</text><text x="728.8" y="565">60W</text><text x="795.4" y="565">30W</text><text x="862" y="565">0</text>
<text x="63" y="1091">0</text><text x="129.6" y="1091">30E</text><text x="196.2" y="1091">60E</text><text x="262.8" y="1091">90E</text><text x="329.3" y="1091">120E</text><text x="395.9" y="1091">150E</text><text x="462.5" y="1091">180</text><text x="529.1" y="1091">150W</text><text x="595.7" y="1091">120W</text><text x="662.3" y="1091">90W</text><text x="728.8" y="1091">60W</text><text x="795.4" y="1091">30W</text><text x="862" y="1091">0</text>
</g>

<text x="1124" y="170" font-size="18" text-anchor="end" textLength="231" lengthAdjust="spacingAndGlyphs" style="white-space:pre">MIN = -40.22 MAX =  30.52</text>
<text x="1121" y="696.5" font-size="18" text-anchor="end" textLength="228" lengthAdjust="spacingAndGlyphs" style="white-space:pre">MIN = -38.52 MAX =  24.66</text>

<g id="cbar" stroke="#000" stroke-width="1">
<rect x="971" y="204" width="34" height="19.6" fill="#8b0000"/>
<rect x="971" y="223.6" width="34" height="19.6" fill="#b82000"/>
<rect x="971" y="243.2" width="34" height="19.6" fill="#e03200"/>
<rect x="971" y="262.8" width="34" height="19.6" fill="#ff5017"/>
<rect x="971" y="282.4" width="34" height="19.6" fill="#ff7943"/>
<rect x="971" y="302" width="34" height="19.6" fill="#ffa982"/>
<rect x="971" y="321.6" width="34" height="19.6" fill="#ffcbb1"/>
<rect x="971" y="341.2" width="34" height="19.6" fill="#ffecdc"/>
<rect x="971" y="360.8" width="34" height="19.6" fill="#d5eaff"/>
<rect x="971" y="380.4" width="34" height="19.6" fill="#b2ccff"/>
<rect x="971" y="400" width="34" height="19.6" fill="#80a9ff"/>
<rect x="971" y="419.6" width="34" height="19.6" fill="#4479ff"/>
<rect x="971" y="439.2" width="34" height="19.6" fill="#1b50ff"/>
<rect x="971" y="458.8" width="34" height="19.6" fill="#0431e0"/>
<rect x="971" y="478.4" width="34" height="19.6" fill="#0020b2"/>
<rect x="971" y="498" width="34" height="19.6" fill="#000090"/>
</g>
<use href="#cbar" y="525.5"/>
<g id="cblab" font-size="18" text-anchor="middle">
<text x="1032" y="250.5">30</text><text x="1032" y="289.7">15</text><text x="1032" y="328.9">5</text><text x="1032" y="368.1">0</text><text x="1032" y="407.3">-5</text><text x="1032" y="446.5">-15</text><text x="1032" y="485.7">-30</text>
</g>
<use href="#cblab" y="525.5"/>
</svg>
</body></html>
